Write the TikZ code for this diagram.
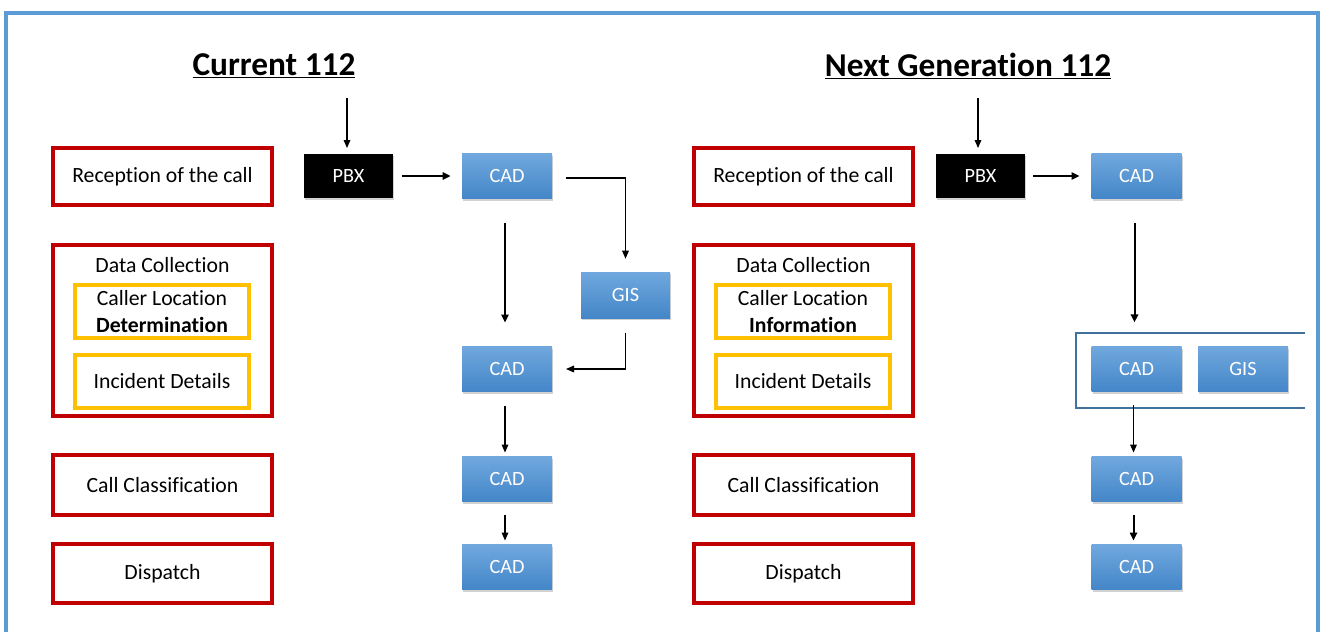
\documentclass[tikz,border=0pt]{standalone}
\usepackage{fontspec}
\setmainfont{Carlito}[Ligatures=NoCommon]
\usetikzlibrary{arrows.meta,shadows,calc}
\definecolor{framebl}{RGB}{91,155,213}
\definecolor{contbl}{RGB}{65,113,156}
\definecolor{redb}{RGB}{192,0,0}
\definecolor{yelb}{RGB}{255,192,0}
\definecolor{cadtop}{RGB}{112,168,222}
\definecolor{cadbot}{RGB}{68,134,200}
\tikzset{
  sz/.style 2 args={minimum width=#1*0.75pt, minimum height=#2*0.75pt, inner sep=0pt, outer sep=0pt},
  redbox/.style={draw=redb, line width=2.5pt, fill=white, font=\fontsize{16.3}{18}\selectfont, align=center},
  yelbox/.style={draw=yelb, line width=2.3pt, fill=white, font=\fontsize{16.3}{20.5}\selectfont, align=center},
  cadbox/.style={sz={90}{45}, top color=cadtop, bottom color=cadbot, draw=none, text=white,
     font=\fontsize{15.2}{17}\selectfont, drop shadow={shadow xshift=1pt, shadow yshift=-1.6pt, opacity=0.35}},
  pbxbox/.style={sz={89}{44}, fill=black, text=white, font=\fontsize{15.2}{17}\selectfont,
     drop shadow={shadow xshift=1pt, shadow yshift=-1.6pt, opacity=0.35}},
  title/.style={font=\bfseries\fontsize{25}{28}\selectfont},
  arr/.style={draw=black, line width=0.8pt, -{Triangle[length=6pt,width=5pt]}},
  arrk/.style={draw=black, line width=1.5pt, -{Triangle[length=6pt,width=5.5pt]}},
  lbl/.style={font=\fontsize{16.3}{18}\selectfont, inner sep=0pt},
}
\begin{document}
\begin{tikzpicture}[x=0.75pt,y=-0.75pt]
\useasboundingbox (0,0) rectangle (1323,632);
\fill[white] (0,0) rectangle (1323,632);
% outer frame
\draw[framebl, line width=2.4pt] (6,632) -- (6,13) -- (1318,13) -- (1318,632);

% ================= Current 112 =================
\node[title] (t1) at (274,66) {\underline{Current 112}};
\coordinate (in1) at (347,98);

\node[redbox, sz={219}{57}] (rec1) at (162.5,176.5) {Reception of the call};
\node[redbox, sz={219}{171}] (dc1) at (162.5,330.5) {};
\node[lbl] (dct1) at (162.5,265) {Data Collection};
\node[yelbox, sz={174}{53}] (loc1) at (162,311.5) {Caller Location\\\textbf{Determination}};
\node[yelbox, sz={174}{53}] (inc1) at (162,381.5) {Incident Details};
\node[redbox, sz={219}{60}] (cc1) at (162.5,485) {Call Classification};
\node[redbox, sz={219}{59}] (dis1) at (162.5,573.5) {Dispatch};

\node[pbxbox] (pbx1) at (348.5,176) {PBX};
\node[cadbox] (cad1a) at (507,176) {CAD};
\node[cadbox, sz={89}{46}] (gis1) at (625.5,295) {GIS};
\node[cadbox] (cad1b) at (507,369) {CAD};
\node[cadbox] (cad1c) at (507,479) {CAD};
\node[cadbox] (cad1d) at (507,567) {CAD};

\draw[arr, shorten >=4.5pt] (in1) -- (in1 |- pbx1.north);
\draw[arrk, shorten <=6.5pt, shorten >=8.5pt] (pbx1.east) -- (cad1a.west);
\draw[arr, shorten <=10.5pt, shorten >=10pt] ($(cad1a.east)+(0,2)$) -| (gis1.north);
\draw[arrk, shorten <=18pt, shorten >=18pt] ($(cad1a.south)+(-2,0)$) -- ($(cad1b.north)+(-2,0)$);
\draw[arr, shorten <=11pt, shorten >=10.5pt] (gis1.south) |- (cad1b.east);
\draw[arr, shorten <=10.5pt, shorten >=3pt] ($(cad1b.south)+(-2,0)$) -- ($(cad1c.north)+(-2,0)$);
\draw[arr, shorten <=10pt, shorten >=3pt] ($(cad1c.south)+(-2,0)$) -- ($(cad1d.north)+(-2,0)$);

% ================= Next Generation 112 =================
\node[title] (t2) at (968,66) {\underline{Next Generation 112}};
\coordinate (in2) at (978,98);

\node[redbox, sz={219}{57}] (rec2) at (803.5,176.5) {Reception of the call};
\node[redbox, sz={219}{171}] (dc2) at (803.5,330.5) {};
\node[lbl] (dct2) at (803.5,265) {Data Collection};
\node[yelbox, sz={174}{53}] (loc2) at (803,311.5) {Caller Location\\\textbf{Information}};
\node[yelbox, sz={174}{53}] (inc2) at (803,381.5) {Incident Details};
\node[redbox, sz={219}{60}] (cc2) at (803.5,485) {Call Classification};
\node[redbox, sz={219}{59}] (dis2) at (803.5,573.5) {Dispatch};

\node[pbxbox] (pbx2) at (980.5,176) {PBX};
\node[cadbox] (cad2a) at (1136.5,176) {CAD};
\node[sz={229}{75}] (cont) at (1190.5,370.5) {};
\draw[contbl, line width=1.5pt] (cont.north east) -- (cont.north west) -- (cont.south west) -- (cont.south east);
\node[cadbox] (cad2b) at (1136.5,369) {CAD};
\node[cadbox] (gis2) at (1243,369) {GIS};
\node[cadbox] (cad2c) at (1136.5,479) {CAD};
\node[cadbox] (cad2d) at (1136.5,567) {CAD};

\draw[arr, shorten >=4.5pt] (in2) -- (in2 |- pbx2.north);
\draw[arrk, shorten <=6pt, shorten >=9pt] (pbx2.east) -- (cad2a.west);
\draw[arrk, shorten <=18pt, shorten >=8pt] ($(cad2a.south)+(-2,0)$) -- ($(cont.north)!(cad2a.south)!(cont.north east)+(-2,0)$);
\draw[arr, shorten <=-2pt, shorten >=3pt] ($(cont.south)!(cad2c.north)!(cont.south west)+(-3,0)$) -- ($(cad2c.north)+(-3,0)$);
\draw[arrk, shorten <=10pt, shorten >=3pt] ($(cad2c.south)+(-3,0)$) -- ($(cad2d.north)+(-3,0)$);
\end{tikzpicture}
\end{document}
